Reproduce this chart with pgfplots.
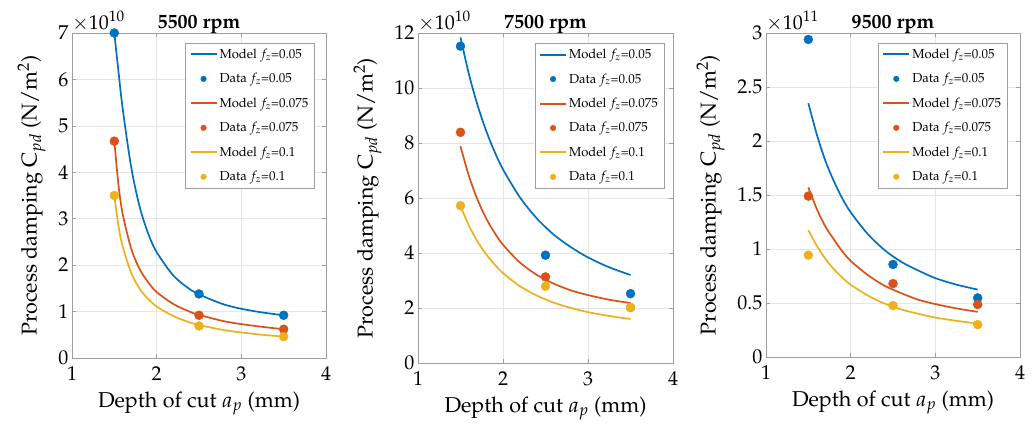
\documentclass[border=0pt]{standalone}
\usepackage[T1]{fontenc}
\usepackage{mathpazo}
\usepackage{pgfplots}
\pgfplotsset{compat=1.18}

\definecolor{mblue}{rgb}{0,0.447,0.741}
\definecolor{mred}{rgb}{0.85,0.325,0.098}
\definecolor{myel}{rgb}{0.929,0.694,0.125}

\newcommand{\ttl}[1]{\fontsize{20}{20}\selectfont\bfseries #1}

\pgfplotsset{
  cpd/.style={
    scale only axis, clip=false,
    xmin=1, xmax=4, xtick={1,2,3,4}, ymin=0,
    grid=major, grid style={gray!20, line width=0.6pt},
    axis line style={gray!75, line width=0.6pt},
    tick style={gray!75, line width=0.6pt}, tick align=inside, major tick length=4pt,
    tick label style={font=\fontsize{20}{20}\selectfont},
    xticklabel style={yshift=-5pt},
    label style={font=\fontsize{21.5}{21.5}\selectfont},
    xlabel style={yshift=-4pt},
    ylabel style={yshift=6pt},
    xlabel={Depth of cut $a_p$ (mm)},
    ylabel={Process damping C$_{pd}$ (N/m$^2$)},
    title style={yshift=-10pt},
    legend style={at={(0.955,0.97)}, anchor=north east,
      font=\fontsize{13}{14}\selectfont, draw=gray!75,
      inner xsep=4pt, inner ysep=4pt, row sep=9.5pt},
    legend cell align=left,
    legend image code/.code={
      \draw[mark repeat=2,mark phase=2,##1]
        plot coordinates {(0pt,0pt)(13pt,0pt)(26pt,0pt)};},
  },
  model/.style={line width=1.7pt, no markers, smooth,
    legend image post style={line width=2pt, sharp plot}},
  dat/.style={only marks, mark=*, mark size=4.5pt,
    legend image post style={mark size=2.8pt}},
}

\begin{document}
\begin{tikzpicture}
\path[use as bounding box] (0pt,0pt) rectangle (1035pt,425pt);

% 5500 rpm
\begin{axis}[cpd, at={(72pt,67pt)}, anchor=south west,
  width=254pt, height=325pt, ymax=7, ytick={0,1,...,7},
  title={\ttl{5500 rpm}}]
\addplot[model, mblue] coordinates {(1.5,7.0)(1.55,6.15)(1.6,5.35)(1.7,4.1)(1.8,3.25)(1.9,2.68)(2.0,2.28)(2.2,1.77)(2.4,1.47)(2.5,1.38)(2.6,1.29)(2.8,1.15)(3.0,1.06)(3.25,0.98)(3.5,0.92)};
\addlegendentry{Model $f_z$=0.05}
\addplot[dat, mblue] coordinates {(1.5,7.0)(2.5,1.38)(3.5,0.92)};
\addlegendentry{Data $f_z$=0.05}
\addplot[model, mred] coordinates {(1.5,4.67)(1.55,3.71)(1.6,3.09)(1.7,2.35)(1.8,1.91)(1.9,1.63)(2.0,1.42)(2.2,1.16)(2.4,0.99)(2.5,0.93)(2.6,0.88)(2.8,0.79)(3.0,0.73)(3.25,0.67)(3.5,0.62)};
\addlegendentry{Model $f_z$=0.075}
\addplot[dat, mred] coordinates {(1.5,4.67)(2.5,0.92)(3.5,0.62)};
\addlegendentry{Data $f_z$=0.075}
\addplot[model, myel] coordinates {(1.5,3.5)(1.55,2.83)(1.6,2.39)(1.7,1.83)(1.8,1.49)(1.9,1.27)(2.0,1.11)(2.2,0.90)(2.4,0.76)(2.5,0.71)(2.6,0.67)(2.8,0.60)(3.0,0.55)(3.25,0.50)(3.5,0.46)};
\addlegendentry{Model $f_z$=0.1}
\addplot[dat, myel] coordinates {(1.5,3.5)(2.5,0.69)(3.5,0.46)};
\addlegendentry{Data $f_z$=0.1}
\node[anchor=south west, inner sep=0pt, yshift=2pt, font=\fontsize{20}{20}\selectfont]
  at (rel axis cs:0,1) {$\times 10^{10}$};
\end{axis}

% 7500 rpm
\begin{axis}[cpd, at={(418pt,62pt)}, anchor=south west,
  width=255pt, height=330pt, ymax=12, ytick={0,2,...,12},
  title={\ttl{7500 rpm}}, legend style={at={(0.965,0.97)}}]
\addplot[model, mblue] coordinates {(1.5,11.84)(1.6,10.49)(1.7,9.38)(1.8,8.46)(1.9,7.69)(2.0,7.04)(2.2,6.02)(2.4,5.25)(2.6,4.66)(2.8,4.21)(3.0,3.84)(3.25,3.48)(3.5,3.2)};
\addlegendentry{Model $f_z$=0.05}
\addplot[dat, mblue] coordinates {(1.5,11.52)(2.5,3.92)(3.5,2.52)};
\addlegendentry{Data $f_z$=0.05}
\addplot[model, mred] coordinates {(1.5,7.88)(1.6,6.79)(1.7,5.94)(1.8,5.27)(1.9,4.74)(2.0,4.30)(2.2,3.65)(2.4,3.20)(2.6,2.88)(2.8,2.64)(3.0,2.47)(3.25,2.30)(3.5,2.18)};
\addlegendentry{Model $f_z$=0.075}
\addplot[dat, mred] coordinates {(1.5,8.39)(2.5,3.13)(3.5,2.02)};
\addlegendentry{Data $f_z$=0.075}
\addplot[model, myel] coordinates {(1.5,5.70)(1.6,4.99)(1.7,4.42)(1.8,3.96)(1.9,3.59)(2.0,3.27)(2.2,2.79)(2.4,2.45)(2.6,2.19)(2.8,2.00)(3.0,1.85)(3.25,1.71)(3.5,1.60)};
\addlegendentry{Model $f_z$=0.1}
\addplot[dat, myel] coordinates {(1.5,5.72)(2.5,2.79)(3.5,2.02)};
\addlegendentry{Data $f_z$=0.1}
\node[anchor=south west, inner sep=0pt, yshift=2pt, font=\fontsize{20}{20}\selectfont]
  at (rel axis cs:0,1) {$\times 10^{10}$};
\end{axis}

% 9500 rpm
\begin{axis}[cpd, at={(766pt,68pt)}, anchor=south west,
  width=254pt, height=324pt, ymax=3, ytick={0,0.5,...,3},
  title={\ttl{9500 rpm}}, legend style={at={(0.95,0.97)}}]
\addplot[model, mblue] coordinates {(1.5,2.35)(1.6,2.06)(1.7,1.82)(1.8,1.63)(1.9,1.47)(2.0,1.34)(2.2,1.14)(2.4,0.99)(2.6,0.88)(2.8,0.80)(3.0,0.73)(3.25,0.67)(3.5,0.624)};
\addlegendentry{Model $f_z$=0.05}
\addplot[dat, mblue] coordinates {(1.5,2.94)(2.5,0.857)(3.5,0.547)};
\addlegendentry{Data $f_z$=0.05}
\addplot[model, mred] coordinates {(1.5,1.57)(1.6,1.37)(1.7,1.21)(1.8,1.09)(1.9,0.98)(2.0,0.89)(2.2,0.76)(2.4,0.66)(2.6,0.59)(2.8,0.53)(3.0,0.49)(3.25,0.45)(3.5,0.418)};
\addlegendentry{Model $f_z$=0.075}
\addplot[dat, mred] coordinates {(1.5,1.49)(2.5,0.68)(3.5,0.486)};
\addlegendentry{Data $f_z$=0.075}
\addplot[model, myel] coordinates {(1.5,1.175)(1.6,1.03)(1.7,0.91)(1.8,0.815)(1.9,0.735)(2.0,0.67)(2.2,0.57)(2.4,0.495)(2.6,0.44)(2.8,0.40)(3.0,0.365)(3.25,0.335)(3.5,0.31)};
\addlegendentry{Model $f_z$=0.1}
\addplot[dat, myel] coordinates {(1.5,0.943)(2.5,0.476)(3.5,0.30)};
\addlegendentry{Data $f_z$=0.1}
\node[anchor=south west, inner sep=0pt, yshift=2pt, font=\fontsize{20}{20}\selectfont]
  at (rel axis cs:0,1) {$\times 10^{11}$};
\end{axis}
\end{tikzpicture}
\end{document}
